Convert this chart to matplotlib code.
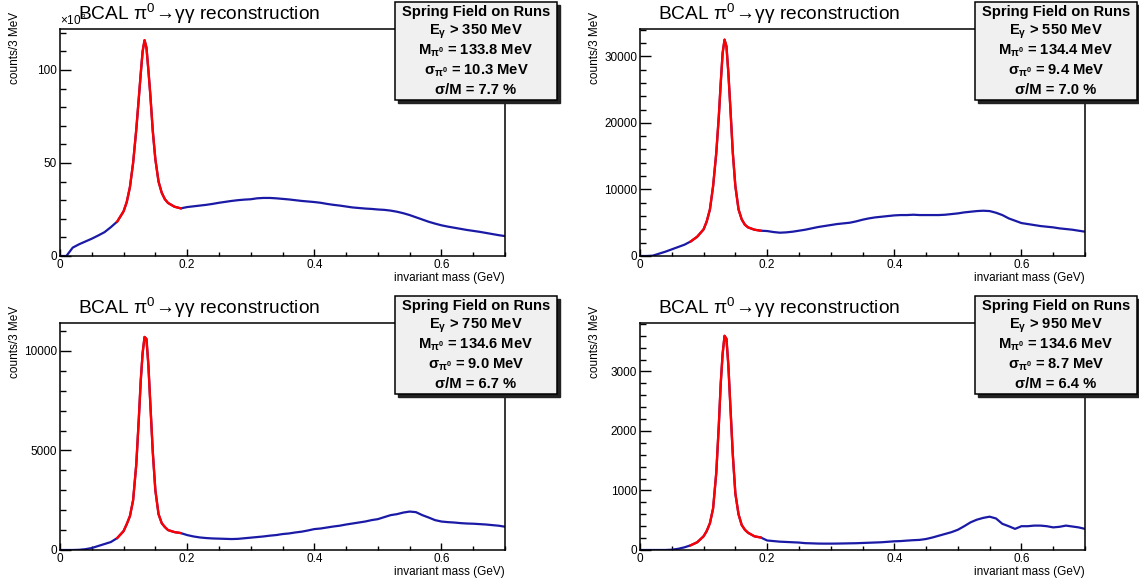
import matplotlib
matplotlib.use("Agg")
import matplotlib.pyplot as plt
from matplotlib.patches import Rectangle
from matplotlib.ticker import MultipleLocator, FuncFormatter

plt.rcParams['font.family'] = ['Liberation Sans', 'DejaVu Sans']
plt.rcParams['mathtext.default'] = 'regular'

#invariant mass points (GeV), finer around the pi0 peak
mass = [0.00, 0.01, 0.02, 0.03, 0.04, 0.05, 0.06, 0.07,
        0.08, 0.09, 0.10, 0.105, 0.11, 0.115, 0.12, 0.124, 0.127, 0.13, 0.133,
        0.136, 0.139, 0.142, 0.146, 0.15, 0.155, 0.16, 0.165, 0.17, 0.18, 0.19,
        0.20, 0.21, 0.22, 0.23, 0.24, 0.25, 0.26, 0.27, 0.28, 0.29, 0.30,
        0.31, 0.32, 0.33, 0.34, 0.35, 0.36, 0.37, 0.38, 0.39, 0.40,
        0.41, 0.42, 0.43, 0.44, 0.45, 0.46, 0.47, 0.48, 0.49, 0.50,
        0.51, 0.52, 0.53, 0.54, 0.55, 0.56, 0.57, 0.58, 0.59, 0.60,
        0.61, 0.62, 0.63, 0.64, 0.65, 0.66, 0.67, 0.68, 0.69, 0.70]

#counts/3 MeV, E > 350 MeV (x10^3)
counts_350 = [0, 0, 4.5, 6.3, 7.8, 9.3, 11.0, 12.8,
              15.5, 18.5, 24, 29, 37, 50, 68, 85, 98, 110, 116,
              112, 100, 87, 67, 52, 40, 34, 30.5, 28.5, 26.5, 25.6,
              26.3, 26.7, 27.1, 27.5, 28.0, 28.6, 29.1, 29.6, 30.0, 30.3, 30.5,
              31.0, 31.2, 31.2, 31.0, 30.7, 30.4, 30.0, 29.6, 29.3, 29.0,
              28.6, 28.0, 27.5, 27.1, 26.6, 26.1, 25.8, 25.5, 25.3, 25.0,
              24.8, 24.4, 23.8, 23.0, 22.0, 20.8, 19.6, 18.4, 17.4, 16.5,
              15.8, 15.2, 14.6, 14.0, 13.5, 13.0, 12.4, 11.8, 11.2, 10.7]
#E > 550 MeV
counts_550 = [0, 0, 50, 350, 650, 1000, 1350, 1700,
              2200, 2900, 4000, 5200, 7000, 10500, 15500, 21000, 26000, 30500, 32500,
              31500, 27500, 22500, 15500, 10500, 7000, 5500, 4700, 4300, 3950, 3800,
              3750, 3600, 3500, 3550, 3650, 3800, 3950, 4150, 4350, 4500, 4650,
              4800, 4900, 5000, 5200, 5450, 5650, 5800, 5900, 6000, 6100,
              6150, 6150, 6200, 6150, 6150, 6150, 6150, 6200, 6300, 6400,
              6550, 6650, 6750, 6800, 6750, 6500, 6150, 5650, 5300, 4950,
              4800, 4650, 4500, 4400, 4300, 4150, 4050, 3950, 3800, 3650]
#E > 750 MeV
counts_750 = [0, 0, 0, 10, 40, 100, 200, 300,
              400, 600, 950, 1300, 1700, 2500, 4300, 6600, 8500, 9900, 10700,
              10600, 9300, 7400, 4900, 3000, 1800, 1350, 1150, 1000, 900, 850,
              750, 680, 630, 600, 580, 570, 560, 550, 560, 590, 620,
              650, 680, 720, 750, 800, 830, 880, 920, 980, 1050,
              1080, 1130, 1180, 1220, 1280, 1330, 1380, 1430, 1500, 1550,
              1650, 1750, 1800, 1880, 1930, 1900, 1750, 1630, 1500, 1430,
              1400, 1380, 1350, 1330, 1320, 1300, 1280, 1250, 1220, 1170]
#E > 950 MeV
counts_950 = [0, 0, 0, 0, 0, 5, 20, 45,
              80, 130, 230, 320, 450, 700, 1300, 2100, 2800, 3300, 3600,
              3550, 3100, 2450, 1600, 950, 600, 420, 340, 290, 230, 210,
              160, 150, 140, 135, 130, 125, 115, 112, 108, 107, 107,
              108, 110, 112, 114, 118, 122, 126, 130, 138, 146,
              150, 158, 165, 170, 185, 210, 240, 270, 300, 340,
              400, 465, 510, 540, 560, 530, 440, 400, 355, 400,
              400, 410, 410, 400, 380, 390, 410, 395, 380, 355]

#legend texts
e_cuts = ["350", "550", "750", "950"]
m_pi0 = ["133.8", "134.4", "134.6", "134.6"]
s_pi0 = ["10.3", "9.4", "9.0", "8.7"]
s_over_m = ["7.7", "7.0", "6.7", "6.4"]
fit_start = [0.085, 0.08, 0.09, 0.08]
fit_end = 0.19

#per panel axis settings
y_max = [122, 34100, 11400, 3815]
y_major = [50, 10000, 5000, 1000]
y_minor = [10, 2000, 1000, 200]
all_counts = [counts_350, counts_550, counts_750, counts_950]

W, H = 1139, 585
fig = plt.figure(figsize=(W / 100, H / 100), dpi=100)

#pixel positions of the four pads (left, top)
pads = [(60, 29), (640, 29), (60, 323), (640, 323)]
ax_w, ax_h = 445, 227
blue = '#1a1aa6'

for i, (px, py) in enumerate(pads):
    ax = fig.add_axes([px / W, 1 - (py + ax_h) / H, ax_w / W, ax_h / H])
    y = all_counts[i]
    ax.plot(mass, y, color=blue, lw=1.6)
    fx = [m for m in mass if fit_start[i] <= m <= fit_end]
    fy = [v for m, v in zip(mass, y) if fit_start[i] <= m <= fit_end]
    ax.plot(fx, fy, color='red', lw=1.7)

    ax.set_xlim(0, 0.7)
    ax.set_ylim(0, y_max[i])
    ax.xaxis.set_major_locator(MultipleLocator(0.2))
    ax.xaxis.set_minor_locator(MultipleLocator(0.05))
    ax.yaxis.set_major_locator(MultipleLocator(y_major[i]))
    ax.yaxis.set_minor_locator(MultipleLocator(y_minor[i]))
    fmt = FuncFormatter(lambda v, _: f"{v:g}")
    ax.xaxis.set_major_formatter(fmt)
    ax.yaxis.set_major_formatter(fmt)
    ax.tick_params(axis='both', which='both', direction='in', labelsize=8.5,
                   top=False, right=False, width=1)
    ax.tick_params(axis='y', which='major', length=8, pad=2)
    ax.tick_params(axis='y', which='minor', length=4.5)
    ax.tick_params(axis='x', which='major', length=5, pad=2)
    ax.tick_params(axis='x', which='minor', length=3)
    for s in ax.spines.values():
        s.set_linewidth(1.1)

    ax.set_xlabel('invariant mass (GeV)', fontsize=8.5, loc='right', labelpad=1)
    ax.text(-0.1, 1.075, 'counts/3 MeV', rotation=90, fontsize=8.5,
            ha='center', va='top', transform=ax.transAxes)
    if i == 0:
        ax.text(0.0, 1.005, r'$\times$10$^{3}$', fontsize=8.5, ha='left',
                va='bottom', transform=ax.transAxes)

    #title above the pad
    fig.text((px + 18) / W, 1 - (py - 15) / H,
             r'BCAL π$^{0}\!\rightarrow\!$γγ reconstruction',
             fontsize=13.8, ha='left', va='center')

    #stats box with shadow
    bx0, by0, bw, bh = px + 335, py - 27, 162, 98
    fig.patches.append(Rectangle(((bx0 + 3) / W, 1 - (by0 + bh + 3) / H), bw / W, bh / H,
                                 transform=fig.transFigure, facecolor='#222222',
                                 edgecolor='#222222', zorder=5))
    fig.patches.append(Rectangle((bx0 / W, 1 - (by0 + bh) / H), bw / W, bh / H,
                                 transform=fig.transFigure, facecolor='#f0f0f0',
                                 edgecolor='black', lw=1.1, zorder=6))
    lines = ['Spring Field on Runs',
             r'E$_{γ}$ > ' + e_cuts[i] + ' MeV',
             r'M$_{π^{0}}$ = ' + m_pi0[i] + ' MeV',
             r'σ$_{π^{0}}$ = ' + s_pi0[i] + ' MeV',
             'σ/M = ' + s_over_m[i] + ' %']
    for k, t in enumerate(lines):
        fig.text((bx0 + bw / 2) / W, 1 - (by0 + bh * (k + 0.5) / 5) / H, t,
                 fontsize=10.6, fontweight='bold', ha='center', va='center', zorder=7)

fig.savefig('out.png', dpi=100)
